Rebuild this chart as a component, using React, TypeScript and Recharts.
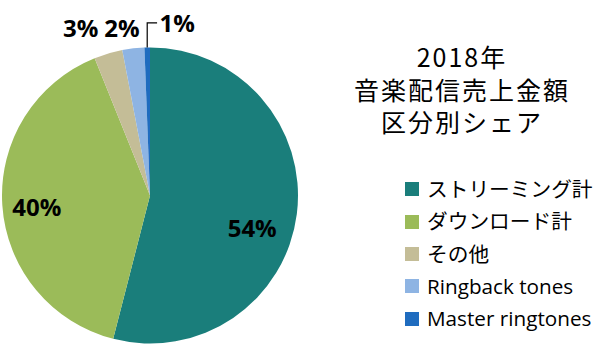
import React from 'react';
import { PieChart, Pie, Cell, Legend } from 'recharts';

// 2018 music digital revenue share by category (%)
const categories = ['ストリーミング計', 'ダウンロード計', 'その他', 'Ringback tones', 'Master ringtones'];
const shares = [54, 39.9, 3.1, 2.4, 0.6];
const titleLines = ['2018年', '音楽配信売上金額', '区分別シェア'];

const COLORS = ['#1a7e7b', '#9bbb59', '#c4bd97', '#8eb4e3', '#1f6cbf'];

// label placement per slice: radius factor and clockwise angle shift from mid-angle
const LABEL_R = [0.723, 0.768, 1.23, 1.15, 1.18];
const LABEL_SHIFT = [10, -2, -6, -3, 10];

const data = categories.map((name, i) => ({ name, value: shares[i] }));

const RAD = Math.PI / 180;
const latinFont = "'Open Sans', 'Noto Sans CJK JP', sans-serif";

const renderLabel = (props: any) => {
  const { cx, cy, midAngle, outerRadius, percent, index } = props;
  const a = midAngle - LABEL_SHIFT[index];
  const r = outerRadius * LABEL_R[index];
  const x = cx + r * Math.cos(-a * RAD);
  const y = cy + r * Math.sin(-a * RAD);
  const text = `${Math.round(percent * 100)}%`;
  let leader = null;
  if (index === categories.length - 1) {
    const ex = cx + outerRadius * Math.cos(-midAngle * RAD);
    const ey = cy + outerRadius * Math.sin(-midAngle * RAD);
    leader = (
      <polyline
        points={`${ex},${ey} ${ex},${y} ${x - 20},${y}`}
        fill="none"
        stroke="#000"
        strokeWidth={1.2}
      />
    );
  }
  return (
    <g key={`lbl-${index}`}>
      {leader}
      <text
        x={x}
        y={y}
        textAnchor="middle"
        dominantBaseline="central"
        fontFamily={latinFont}
        fontWeight="bold"
        fontSize={24}
        fill="#000"
      >
        {text}
      </text>
    </g>
  );
};

const renderLegend = () => (
  <div style={{ fontFamily: latinFont, fontSize: 20.7, color: '#000' }}>
    {categories.map((name, i) => (
      <div key={name} style={{ display: 'flex', alignItems: 'center', height: 32.4 }}>
        <span style={{ width: 14, height: 14, background: COLORS[i], marginRight: 8, flexShrink: 0 }} />
        <span style={{ whiteSpace: 'nowrap', lineHeight: 1 }}>{name}</span>
      </div>
    ))}
  </div>
);

export default function App() {
  return (
    <div style={{ position: 'absolute', left: 0, top: 0, width: 600, height: 345, background: '#fff' }}>
      <PieChart width={600} height={345} margin={{ top: 0, right: 0, bottom: 0, left: 0 }}>
        <Pie
          data={data}
          dataKey="value"
          nameKey="name"
          cx={150}
          cy={195.5}
          outerRadius={148}
          startAngle={90}
          endAngle={-270}
          stroke="none"
          labelLine={false}
          label={renderLabel}
          isAnimationActive={false}
        >
          {data.map((d, i) => (
            <Cell key={d.name} fill={COLORS[i]} />
          ))}
        </Pie>
        <Legend
          content={renderLegend}
          layout="vertical"
          wrapperStyle={{ left: 405, top: 173, width: 200 }}
        />
      </PieChart>
      <div
        style={{
          position: 'absolute',
          left: 330,
          top: 40,
          width: 264,
          textAlign: 'center',
          fontFamily: "'Noto Sans CJK JP', sans-serif",
          fontSize: 25,
          lineHeight: '32.5px',
          letterSpacing: 2,
          color: '#000',
        }}
      >
        {titleLines.map((t) => (
          <div key={t}>{t}</div>
        ))}
      </div>
    </div>
  );
}
